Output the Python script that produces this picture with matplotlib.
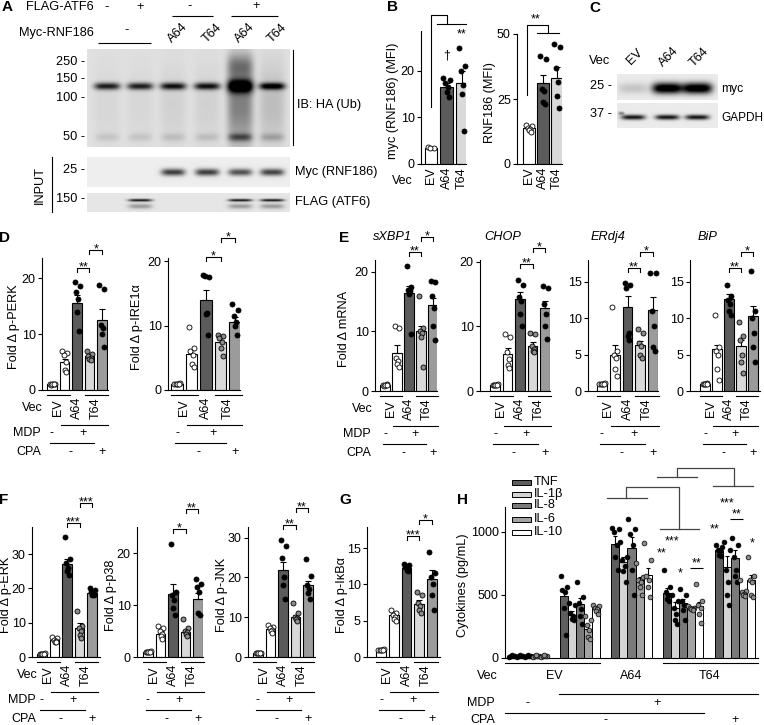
import numpy as np
import matplotlib
matplotlib.use("Agg")
import matplotlib.pyplot as plt
from matplotlib.patches import Rectangle
from matplotlib.transforms import blended_transform_factory

plt.rcParams["font.family"] = ["Liberation Sans", "DejaVu Sans"]
plt.rcParams["font.size"] = 9
plt.rcParams["axes.linewidth"] = 0.8

W, H = 764, 725

# ---------------- data ----------------
groups5 = ["EV", "A64", "T64"]
mdp_signs = ["-", "+"]
cpa_signs = ["-", "+"]

# B: flow cytometry
b_labels = ["EV", "A64", "T64"]
myc_mean = [3.5, 16.5, 17.5]
myc_sem = [0.2, 1.0, 2.5]
myc_pts = [[3.6, 3.5, 3.4], [18.5, 18.0, 17.5, 16.5, 15.5, 14.5], [25.0, 21.0, 20.0, 17.0, 15.0, 7.0]]
rnf_mean = [14.0, 31.0, 33.0]
rnf_sem = [0.5, 3.4, 4.5]
rnf_pts = [[15.0, 14.5, 14.0, 13.5, 13.0, 12.5], [41.5, 40.5, 29.0, 28.0, 24.0, 23.0],
           [46.0, 45.0, 37.0, 31.5, 26.0, 21.5]]

# D: UPR sensors
perk_mean = [1.0, 5.0, 15.6, 6.0, 12.5]
perk_sem = [0.1, 0.6, 1.3, 0.3, 1.9]
perk_pts = [[1.0, 1.1, 0.9, 1.0, 1.0, 1.0], [7.0, 6.7, 6.3, 5.0, 3.6, 3.2],
            [19.3, 18.6, 17.5, 16.3, 14.0, 10.5], [6.9, 6.4, 6.1, 5.8, 5.6, 5.4],
            [18.8, 18.0, 11.6, 11.0, 10.0, 7.6]]
ire_mean = [1.0, 5.6, 14.0, 7.5, 10.6]
ire_sem = [0.1, 0.6, 1.6, 0.5, 0.8]
ire_pts = [[1.0, 1.1, 0.9, 1.0, 1.0, 1.0], [9.8, 6.5, 6.0, 5.4, 4.0, 3.6],
           [17.8, 17.5, 17.7, 12.0, 11.8, 8.5], [8.6, 8.4, 8.0, 7.5, 6.5, 5.3],
           [13.3, 12.5, 11.5, 10.5, 10.0, 8.5]]

# E: UPR target mRNA
xbp_mean = [1.0, 6.4, 16.5, 10.0, 14.5]
xbp_sem = [0.1, 1.4, 1.2, 0.9, 1.2]
xbp_pts = [[1.0, 1.1, 0.9, 1.0, 1.0, 1.0], [11.0, 10.6, 5.5, 5.0, 4.6, 4.0],
           [21.0, 17.5, 17.0, 16.8, 16.3, 9.5], [16.0, 10.5, 10.0, 9.8, 9.0, 4.0],
           [18.5, 18.3, 16.0, 14.0, 11.0, 8.5]]
chop_mean = [1.0, 5.8, 14.3, 7.0, 12.8]
chop_sem = [0.1, 0.8, 1.0, 0.6, 1.2]
chop_pts = [[1.0, 1.1, 0.9, 1.0, 1.0, 1.0], [8.8, 8.4, 6.0, 5.0, 4.0, 3.5],
            [17.2, 16.5, 14.5, 14.0, 12.0, 10.0], [9.0, 8.8, 7.0, 6.5, 6.2, 6.0],
            [16.2, 16.0, 13.5, 12.0, 10.0, 8.0]]
erdj_mean = [1.0, 5.0, 11.6, 6.3, 11.1]
erdj_sem = [0.1, 1.3, 1.4, 0.6, 1.8]
erdj_pts = [[1.0, 1.1, 0.9, 1.0, 1.0, 1.0], [11.5, 5.5, 5.0, 4.5, 3.0, 2.0],
            [14.8, 14.5, 14.2, 8.0, 7.6, 7.0], [8.5, 8.0, 6.6, 6.2, 5.0, 4.5],
            [16.2, 16.2, 11.0, 9.0, 6.0, 5.5]]
bip_mean = [1.0, 5.8, 12.6, 6.2, 10.3]
bip_sem = [0.1, 0.5, 0.7, 0.8, 1.4]
bip_pts = [[1.0, 1.1, 0.9, 1.0, 1.0, 1.0], [10.5, 6.0, 5.5, 5.0, 3.0, 1.5],
           [14.6, 13.0, 12.5, 12.0, 11.0, 10.5], [9.5, 7.5, 7.0, 5.0, 4.0, 2.5],
           [16.5, 11.0, 10.0, 8.0, 6.0, 4.0]]

# F/G: MAPK and NF-kB
erk_mean = [1.0, 5.0, 27.2, 8.6, 18.7]
erk_sem = [0.1, 0.3, 1.5, 1.2, 0.5]
erk_pts = [[1.0, 1.1, 0.9, 1.0, 1.0, 1.0], [5.8, 5.4, 5.0, 4.7, 4.5, 4.3],
           [35.0, 28.5, 27.5, 26.0, 25.0, 24.0], [13.5, 9.0, 8.5, 7.5, 6.5, 5.5],
           [20.0, 19.6, 19.0, 18.5, 18.2, 18.0]]
p38_mean = [1.0, 4.5, 12.2, 4.8, 11.2]
p38_sem = [0.1, 0.5, 1.9, 0.4, 1.2]
p38_pts = [[1.0, 1.1, 0.9, 1.0, 1.0, 1.0], [6.0, 5.6, 5.0, 4.5, 4.0, 3.5],
           [21.8, 12.5, 12.0, 11.0, 9.5, 8.0], [7.3, 5.5, 5.0, 4.8, 4.5, 4.0],
           [15.0, 14.0, 13.5, 12.5, 8.5, 8.0]]
jnk_mean = [1.0, 7.0, 22.0, 10.0, 18.2]
jnk_sem = [0.1, 0.4, 2.0, 0.5, 1.0]
jnk_pts = [[1.0, 1.1, 0.9, 1.0, 1.0, 1.0], [8.0, 7.6, 7.2, 6.8, 6.5, 6.0],
           [29.5, 28.0, 25.0, 20.0, 18.0, 14.5], [13.5, 11.0, 10.0, 9.8, 9.5, 9.0],
           [24.7, 20.5, 18.0, 17.0, 16.0, 14.5]]
ikb_mean = [1.0, 5.8, 12.3, 7.3, 10.8]
ikb_sem = [0.1, 0.3, 0.2, 0.5, 1.2]
ikb_pts = [[1.0, 1.1, 0.9, 1.0, 1.0, 1.0], [6.5, 6.1, 5.8, 5.5, 5.3, 5.0],
           [12.8, 12.6, 12.4, 12.2, 12.0, 11.8], [9.0, 8.5, 7.5, 7.0, 6.5, 6.0],
           [14.5, 11.5, 11.0, 10.0, 8.5, 6.5]]

# H: cytokines (rows: EV-, EV+, A64, T64, T64+CPA; cols: cytokines)
cyto = ["TNF", "IL-1β", "IL-8", "IL-6", "IL-10"]
h_groups = ["EV", "A64", "T64"]
h_mean = [[15, 15, 15, 15, 15],
          [495, 345, 425, 230, 400],
          [905, 760, 870, 615, 655],
          [515, 400, 435, 395, 415],
          [855, 720, 790, 522, 618]]
h_sem = [[3, 3, 3, 3, 3],
         [40, 25, 50, 30, 15],
         [60, 40, 90, 30, 60],
         [40, 45, 35, 10, 30],
         [20, 90, 70, 10, 40]]
h_pts = [
    [[10, 12, 15, 18, 20], [10, 12, 15, 18, 20], [10, 12, 15, 18, 20], [10, 12, 15, 18, 20], [10, 12, 15, 18, 20]],
    [[650, 560, 540, 520, 400, 180], [440, 420, 360, 330, 310, 300], [600, 480, 440, 390, 330, 270],
     [330, 300, 260, 220, 170, 150], [420, 410, 400, 390, 370, 350]],
    [[1030, 1020, 1000, 900, 800, 700], [920, 800, 780, 730, 690, 600], [1100, 1020, 980, 900, 700, 500],
     [750, 640, 620, 600, 560, 500], [910, 780, 650, 620, 560, 480]],
    [[700, 560, 520, 500, 470, 450], [500, 450, 400, 350, 300, 270], [550, 500, 450, 420, 380, 300],
     [410, 400, 395, 390, 385, 380], [590, 450, 420, 400, 350, 280]],
    [[900, 880, 860, 850, 820, 810], [920, 860, 700, 600, 500, 420], [950, 900, 800, 700, 650, 600],
     [620, 530, 520, 510, 500, 490], [800, 650, 620, 600, 500, 480]],
]

# blots: band intensities per lane
lanes_a = [107, 140, 173, 207, 240, 272]
a_top = ["-", "+"]
ub_band = [0.75, 0.75, 0.8, 0.8, 1.0, 0.9]
ub_smear = [0.04, 0.04, 0.06, 0.06, 0.38, 0.14]
myc_band = [0.0, 0.0, 0.7, 0.7, 0.62, 0.68]
flag_band = [0.0, 0.85, 0.0, 0.0, 0.85, 0.85]
lanes_c = [633, 667, 697]
c_myc = [0.15, 1.1, 1.1]
c_gapdh = [0.85, 0.85, 0.85]

# ---------------- styles ----------------
bar_colors = ["white", "white", "#5b5b5b", "#d9d9d9", "#9b9b9b"]
dot_faces = ["white", "white", "black", "#8c8c8c", "black"]
cyto_colors = ["#5e5e5e", "#d4d4d4", "#7a7a7a", "#a3a3a3", "white"]
cyto_dots = ["black", "black", "black", "#8c8c8c", "#8c8c8c"]
JIT = [-0.2, 0.2, -0.08, 0.08, 0.0, 0.14]
FS = 9        # general text
FL = 9.2      # axis labels / blot labels

fig = plt.figure(figsize=(W / 100, H / 100), dpi=100, facecolor="white")
ov = fig.add_axes([0, 0, 1, 1], zorder=10)
ov.set_xlim(0, W)
ov.set_ylim(H, 0)
ov.axis("off")
ov.patch.set_alpha(0)


def px_axes(x0, x1, ytop, ybot):
    return fig.add_axes([x0 / W, 1 - ybot / H, (x1 - x0) / W, (ybot - ytop) / H])


def txt(x, y, s, **kw):
    kw.setdefault("ha", "center")
    kw.setdefault("va", "center")
    kw.setdefault("fontsize", FS)
    ov.text(x, y, s, **kw)


def hline(x0, x1, y, **kw):
    ov.plot([x0, x1], [y, y], color="black", lw=0.8, solid_capstyle="butt", **kw)


def style_axes(ax, yticks):
    for s in ("top", "right"):
        ax.spines[s].set_visible(False)
    ax.set_xticks([])
    ax.set_yticks(yticks)
    ax.tick_params(axis="y", length=3, width=0.8, pad=1.5, labelsize=FS)


def bar_panel(box, first, step, ymax, yticks, means, sems, pts, colors, faces,
              width=0.78, ylabel=None, label_x=None):
    x0, x1, ytop, ybot = box
    ax = px_axes(x0, x1, ytop, ybot)
    n = len(means)
    xs = np.arange(n)
    ax.set_xlim(-(first - x0) / step, (x1 - first) / step)
    ax.set_ylim(0, ymax)
    ax.bar(xs, means, width=width, color=colors, edgecolor="black", linewidth=0.8, zorder=2)
    ax.errorbar(xs, means, yerr=[np.zeros(n), sems], fmt="none", ecolor="black",
                elinewidth=0.8, capsize=2, capthick=0.8, zorder=3)
    for i in range(n):
        p = pts[i]
        ax.scatter(xs[i] + np.array(JIT[:len(p)]), p, s=13, facecolor=faces[i],
                   edgecolor="black", linewidth=0.6, zorder=4, clip_on=False)
    style_axes(ax, yticks)
    if ylabel:
        txt(label_x, (ytop + ybot) / 2 + 3, ylabel, rotation=90, fontsize=FL)
    return ax


def tr_of(ax):
    return blended_transform_factory(ax.transData, ov.transData)


def bracket(ax, i, j, y, s):
    tr = tr_of(ax)
    ov.plot([i, i, j, j], [y + 4, y, y, y + 4], color="black", lw=0.8, transform=tr)
    ov.text((i + j) / 2, y + 2.5, s, ha="center", va="baseline", fontsize=FS, transform=tr)


def treatment_rows(ax, ybase, row_x=None):
    tr = tr_of(ax)
    kw = dict(color="black", lw=0.8, transform=tr, clip_on=False)
    ov.plot([-0.4, 1.45], [ybase + 5] * 2, **kw)
    ov.plot([2.6, 4.45], [ybase + 5] * 2, **kw)
    for x, s in zip([0.5, 2, 3.5], groups5):
        ov.text(x, ybase + 18, s, rotation=90, ha="center", va="center", fontsize=FS, transform=tr)
    ov.plot([0.7, 4.45], [ybase + 35] * 2, **kw)
    for x, s in zip([0, 2.5], mdp_signs):
        ov.text(x, ybase + 43, s, ha="center", va="center", fontsize=FS, transform=tr)
    ov.plot([-0.15, 3.4], [ybase + 53] * 2, **kw)
    for x, s in zip([1.5, 4], cpa_signs):
        ov.text(x, ybase + 62, s, ha="center", va="center", fontsize=FS, transform=tr)
    if row_x is not None:
        txt(row_x, ybase + 18, "Vec", ha="right")
        txt(row_x - 2, ybase + 43, "MDP", ha="right")
        txt(row_x - 2, ybase + 62, "CPA", ha="right")


def blot(x0, x1, y0, y1, bands, bg=0.1):
    xx, yy = np.meshgrid(np.arange(x0, x1, 0.5), np.arange(y0, y1, 0.5))
    img = np.full(xx.shape, bg)
    for cx, cy, wx, wy, amp in bands:
        img += amp * np.exp(-((xx - cx) / wx) ** 4 - ((yy - cy) / wy) ** 2)
    ov.imshow(np.clip(img, 0, 1), cmap="gray_r", vmin=0, vmax=1, extent=(x0, x1, y1, y0),
              aspect="auto", interpolation="bilinear", zorder=0)


# ---------------- panel letters ----------------
for s, x, y in [("A", 7, 7), ("B", 393, 7), ("C", 595, 8), ("D", 5, 238), ("E", 344, 238),
                ("F", 4, 500), ("G", 345, 500), ("H", 463, 500)]:
    txt(x, y, s, fontsize=11, fontweight="bold")

# ---------------- A: ubiquitination blot ----------------
main = []
for lx, a, sm in zip(lanes_a, ub_band, ub_smear):
    main.append((lx, 86, 13, 3.5 if a < 1 else 6.5, a))
    main.append((lx, 104, 13, 42, sm))
    main.append((lx, 137, 12, 4, sm + 0.05))
main.append((lanes_a[4], 66, 13, 12, 0.3))
blot(87, 290, 49, 147, main, bg=0.12)
blot(87, 290, 157, 187, [(lx, 172, 12, 3.5, a) for lx, a in zip(lanes_a, myc_band)], bg=0.07)
flag = [(lx, 200, 12, 1.3, a) for lx, a in zip(lanes_a, flag_band)]
flag += [(lx, 206, 12, 2.5, a * 0.35) for lx, a in zip(lanes_a, flag_band)]
blot(87, 290, 193, 212, flag, bg=0.1)

txt(26, 7, "FLAG-ATF6", ha="left", fontsize=FL)
txt(lanes_a[0], 7, a_top[0], fontsize=FL)
txt(lanes_a[1], 7, a_top[1], fontsize=FL)
txt((lanes_a[2] + lanes_a[3]) / 2, 6, a_top[0], fontsize=FL)
hline(172, 213, 16)
txt((lanes_a[4] + lanes_a[5]) / 2, 6, a_top[1], fontsize=FL)
hline(231, 278, 16)
txt(19, 33, "Myc-RNF186", ha="left", fontsize=FL)
txt((lanes_a[0] + lanes_a[1]) / 2 + 3, 30, "-", fontsize=FL)
hline(98, 151, 43)
for lx, s in zip(lanes_a[2:], ["A64", "T64", "A64", "T64"]):
    txt(lx + 5, 33, s, rotation=45, fontsize=FL)
for s, y in [("250 -", 62), ("150 -", 79), ("100 -", 98), ("50 -", 137), ("25 -", 170), ("150 -", 199)]:
    txt(85, y, s, ha="right", fontsize=FL)
ov.plot([293, 293], [50, 145], color="black", lw=0.8)
txt(297, 105, "IB: HA (Ub)", ha="left", fontsize=FL)
txt(295, 172, "Myc (RNF186)", ha="left", fontsize=FL)
txt(295, 202, "FLAG (ATF6)", ha="left", fontsize=FL)
txt(40, 185, "INPUT", rotation=90, fontsize=FL)
ov.plot([52, 52], [157, 212], color="black", lw=0.8)

# ---------------- B: MFI ----------------
b_colors = ["white", "#5b5b5b", "#d9d9d9"]
b_faces = ["white", "black", "black"]
axb1 = bar_panel((421, 466, 31, 164), 431, 15.5, 28.6, [0, 10, 20], myc_mean, myc_sem, myc_pts,
                 b_colors, b_faces, width=0.8, ylabel="myc (RNF186) (MFI)", label_x=393)
axb2 = bar_panel((517, 562, 34, 164), 529, 14, 50, [0, 25, 50], rnf_mean, rnf_sem, rnf_pts,
                 b_colors, b_faces, width=0.85, ylabel="RNF186 (MFI)", label_x=490)
for ax in (axb1, axb2):
    tr = tr_of(ax)
    for i, s in enumerate(b_labels):
        ov.text(i, 167, s, rotation=90, ha="center", va="top", fontsize=FS, transform=tr)
txt(402, 181, "Vec")
tr = tr_of(axb1)
ov.plot([0, 0, 1, 1], [107, 15, 15, 24], color="black", lw=0.8, transform=tr)
ov.plot([0.4, 2.25], [24, 24], color="black", lw=0.8, transform=tr)
ov.text(1, 55, "†", ha="center", va="center", fontsize=FS, transform=tr)
ov.text(2, 37, "**", ha="center", va="baseline", fontsize=FS, transform=tr)
tr = tr_of(axb2)
ov.plot([-0.15, -0.15, 1.35, 1.35], [95, 25, 25, 33], color="black", lw=0.8, transform=tr)
ov.plot([0.55, 2.15], [33, 33], color="black", lw=0.8, transform=tr)
ov.text(0.45, 22, "**", ha="center", va="baseline", fontsize=FS, transform=tr)

# ---------------- C: expression blot ----------------
blot(617, 718, 74, 100, [(lx, 88, 15, 5.5, a) for lx, a in zip(lanes_c, c_myc)], bg=0.08)
gap = [(lx, 117, 12, 2.5, a) for lx, a in zip(lanes_c, c_gapdh)] + [(621, 113, 3, 1.5, 0.4)]
blot(617, 718, 103, 128, gap, bg=0.08)
txt(600, 61, "Vec", fontsize=FL)
for lx, s in zip(lanes_c, ["EV", "A64", "T64"]):
    txt(lx + 2, 57, s, rotation=45, fontsize=FL)
txt(612, 86, "25 -", ha="right", fontsize=FL)
txt(612, 114, "37 -", ha="right", fontsize=FL)
txt(721, 89, "myc", ha="left", fontsize=8.7)
txt(721, 118, "GAPDH", ha="left", fontsize=8.5)

# ---------------- D ----------------
axd1 = bar_panel((42, 108, 258, 390), 52, 12.5, 23.6, [0, 10, 20], perk_mean, perk_sem, perk_pts,
                 bar_colors, dot_faces, ylabel="Fold Δ p-PERK", label_x=14)
bracket(axd1, 2, 3, 268, "**")
bracket(axd1, 3, 4, 250, "*")
treatment_rows(axd1, 390, row_x=43)
axd2 = bar_panel((168, 240, 258, 390), 177, 14.5, 20.5, [0, 10, 20], ire_mean, ire_sem, ire_pts,
                 bar_colors, dot_faces, ylabel="Fold Δ p-IRE1α", label_x=137)
bracket(axd2, 2, 3, 257, "*")
bracket(axd2, 3, 4, 238, "*")
treatment_rows(axd2, 390)

# ---------------- E ----------------
e_specs = [
    ((375, 437, 260, 391), 385, 12.0, 22.0, [0, 10, 20], xbp_mean, xbp_sem, xbp_pts, "sXBP1", 392, 252, 237),
    ((480, 550, 260, 391), 495, 12.5, 20.3, [0, 10, 20], chop_mean, chop_sem, chop_pts, "CHOP", 503, 264, 248),
    ((588, 658, 260, 391), 602, 12.75, 18.0, [0, 5, 10, 15], erdj_mean, erdj_sem, erdj_pts, "ERdj4", 608, 268, 252),
    ((690, 760, 260, 391), 705, 12.0, 18.0, [0, 5, 10, 15], bip_mean, bip_sem, bip_pts, "BiP", 708, 268, 252),
]
for k, (box, first, step, ymax, yt, m, se, p, title, tx, b1, b2) in enumerate(e_specs):
    ax = bar_panel(box, first, step, ymax, yt, m, se, p, bar_colors, dot_faces,
                   ylabel="Fold Δ mRNA" if k == 0 else None, label_x=344)
    bracket(ax, 2, 3, b1, "**")
    bracket(ax, 3, 4, b2, "*")
    treatment_rows(ax, 391, row_x=373 if k == 0 else None)
    txt(tx, 237, title, fontsize=FL, fontstyle="italic")

# ---------------- F ----------------
f_specs = [
    ((32, 100, 527, 657), 42, 12.5, 37.9, [0, 10, 20, 30], erk_mean, erk_sem, erk_pts, "Fold Δ p-ERK", 6,
     (523, "***"), (503, "***")),
    ((137, 203, 527, 657), 148, 12.5, 25.0, [0, 10, 20], p38_mean, p38_sem, p38_pts, "Fold Δ p-p38", 111,
     (529, "*"), (509, "**")),
    ((248, 315, 527, 657), 258, 12.5, 32.7, [0, 10, 20, 30], jnk_mean, jnk_sem, jnk_pts, "Fold Δ p-JNK", 222,
     (525, "**"), (508, "**")),
    ((367, 440, 527, 657), 381, 12.75, 17.9, [0, 5, 10, 15], ikb_mean, ikb_sem, ikb_pts, "Fold Δ p-IκBα", 342,
     (536, "***"), (520, "*")),
]
for k, (box, first, step, ymax, yt, m, se, p, yl, lx, b1, b2) in enumerate(f_specs):
    ax = bar_panel(box, first, step, ymax, yt, m, se, p, bar_colors, dot_faces, ylabel=yl, label_x=lx)
    bracket(ax, 2, 3, b1[0], b1[1])
    bracket(ax, 3, 4, b2[0], b2[1])
    treatment_rows(ax, 657, row_x=38 if k == 0 else None)

# ---------------- H: cytokines ----------------
axh = px_axes(505, 758, 507, 658)
first, step, bw = 528, 51.75, 0.155
axh.set_xlim(-(first - 505) / step, (758 - first) / step)
axh.set_ylim(0, 1198)
hm = np.array(h_mean)
hs = np.array(h_sem)
gx = np.arange(len(h_mean))
for k in range(len(cyto)):
    xs = gx + (k - 2) * bw
    axh.bar(xs, hm[:, k], width=bw, color=cyto_colors[k], edgecolor="black", linewidth=0.7, zorder=2)
    axh.errorbar(xs, hm[:, k], yerr=[np.zeros(len(gx)), hs[:, k]], fmt="none", ecolor="black",
                 elinewidth=0.8, capsize=1.5, capthick=0.8, zorder=3)
    for g in range(len(gx)):
        p = h_pts[g][k]
        axh.scatter(xs[g] + np.array(JIT[:len(p)]) * 0.3, p, s=12, facecolor=cyto_dots[k],
                    edgecolor="black", linewidth=0.5, zorder=4, clip_on=False)
style_axes(axh, [0, 500, 1000])
txt(463, 585, "Cytokines (pg/mL)", rotation=90, fontsize=FL)

for k, (name, y) in enumerate(zip(cyto, [482, 494, 505, 519, 532])):
    ov.add_patch(Rectangle((512, y - 2.5), 19, 5, facecolor=cyto_colors[k], edgecolor="black", lw=0.7))
    txt(534, y, name, ha="left", fontsize=FL)

# significance tree above H
ov.plot([607, 647], [498, 498], color="#444444", lw=0.9)
ov.plot([626, 626, 679, 679], [498, 487, 487, 529], color="#444444", lw=0.9)
ov.plot([660, 699], [529, 529], color="#444444", lw=0.9)
ov.plot([657, 697], [477, 477], color="#444444", lw=0.9)
ov.plot([677, 677, 734, 734], [477, 468, 468, 486], color="#444444", lw=0.9)
ov.plot([713, 753], [486, 486], color="#444444", lw=0.9)
for x, y, s in [(662, 556, "**"), (672, 544, "***"), (680, 576, "*"), (697, 566, "**"),
                (715, 532, "**"), (727, 506, "***"), (737, 517, "**"), (752, 546, "*")]:
    txt(x, y, s, va="baseline")
hline(690, 703, 568)
hline(730, 743, 519)

# treatment rows under H
trh = tr_of(axh)
for x0, x1, y in [(-0.45, 1.4, 663), (2.6, 4.45, 663), (0.6, 4.45, 694), (-0.45, 3.4, 713)]:
    ov.plot([x0, x1], [y, y], color="black", lw=0.8, transform=trh)
for x, s in zip([0.5, 2, 3.5], h_groups):
    ov.text(x, 676, s, ha="center", va="center", fontsize=FS, transform=trh)
for x, s in zip([0, 2.5], mdp_signs):
    ov.text(x, 703, s, ha="center", va="center", fontsize=FS, transform=trh)
for x, s in zip([1.5, 4], cpa_signs):
    ov.text(x, 720, s, ha="center", va="center", fontsize=FS, transform=trh)
txt(498, 676, "Vec", ha="right")
txt(495, 703, "MDP", ha="right")
txt(495, 720, "CPA", ha="right")

ov.set_xlim(0, W)
ov.set_ylim(H, 0)
fig.savefig("out.png", dpi=100, facecolor="white")
